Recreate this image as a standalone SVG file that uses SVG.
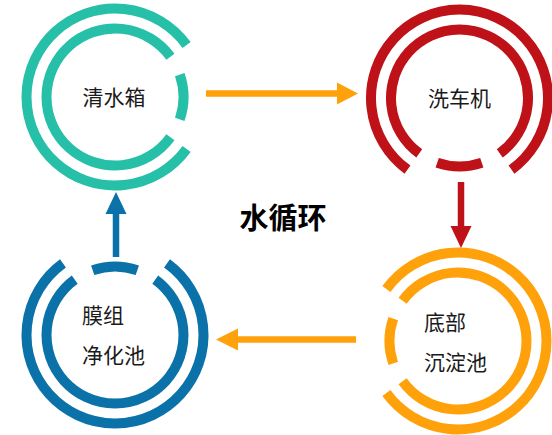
<svg xmlns="http://www.w3.org/2000/svg" xmlns:xlink="http://www.w3.org/1999/xlink" width="552" height="435" viewBox="0 0 552 435">
<style>
.lbl{font-family:"Noto Sans CJK SC","Noto Sans",sans-serif;font-size:21px;fill:#1a1a1a}
.title{font-family:"Noto Sans CJK SC","Noto Sans",sans-serif;font-size:29px;font-weight:bold;fill:#000}
.ring{fill:none;stroke-width:10}
</style>
<defs>
<g id="ringset">
<path d="M 71.60 52.02 A 88.5 88.5 0 1 1 71.60 -52.02"/>
<path d="M 55.42 40.26 A 68.5 68.5 0 1 1 55.42 -40.26"/>
<path d="M 64.77 -22.30 A 68.5 68.5 0 0 1 64.77 22.30"/>
</g>
</defs>
<rect width="552" height="435" fill="#fff"/>
<g id="node-qingshuixiang">
<use xlink:href="#ringset" class="ring" stroke="#26BFA8" transform="translate(115,97)"/>
<text class="lbl" x="114" y="105" text-anchor="middle">清水箱</text>
</g>
<g id="node-xicheji">
<use xlink:href="#ringset" class="ring" stroke="#BE1118" transform="translate(459.5,98) rotate(90)"/>
<text class="lbl" x="459.5" y="106" text-anchor="middle">洗车机</text>
</g>
<g id="node-dibu">
<use xlink:href="#ringset" class="ring" stroke="#FFA10A" transform="translate(458,341) rotate(180)"/>
<text class="lbl" x="424" y="330">底部</text>
<text class="lbl" x="424" y="370">沉淀池</text>
</g>
<g id="node-mozu">
<use xlink:href="#ringset" class="ring" stroke="#0A72A8" transform="translate(115,335) rotate(-90)"/>
<text class="lbl" x="82" y="323">膜组</text>
<text class="lbl" x="82" y="363">净化池</text>
</g>
<g id="center-title">
<text class="title" x="283" y="229" text-anchor="middle">水循环</text>
</g>
<g id="connectors">
<line x1="206" y1="93.5" x2="338" y2="93.5" stroke="#FFA10A" stroke-width="6.5"/>
<polygon points="337,82.5 358,93.5 337,104.5" fill="#FFA10A"/>
<line x1="461" y1="182" x2="461" y2="227" stroke="#BE1118" stroke-width="6.5"/>
<polygon points="450.5,226 471.5,226 461,248" fill="#BE1118"/>
<line x1="356" y1="339.5" x2="237" y2="339.5" stroke="#FFA10A" stroke-width="6.5"/>
<polygon points="238,328.5 238,350.5 216,339.5" fill="#FFA10A"/>
<line x1="116" y1="257" x2="116" y2="213" stroke="#0A72A8" stroke-width="6.5"/>
<polygon points="105.5,214 126.5,214 116,192" fill="#0A72A8"/>
</g>
</svg>
